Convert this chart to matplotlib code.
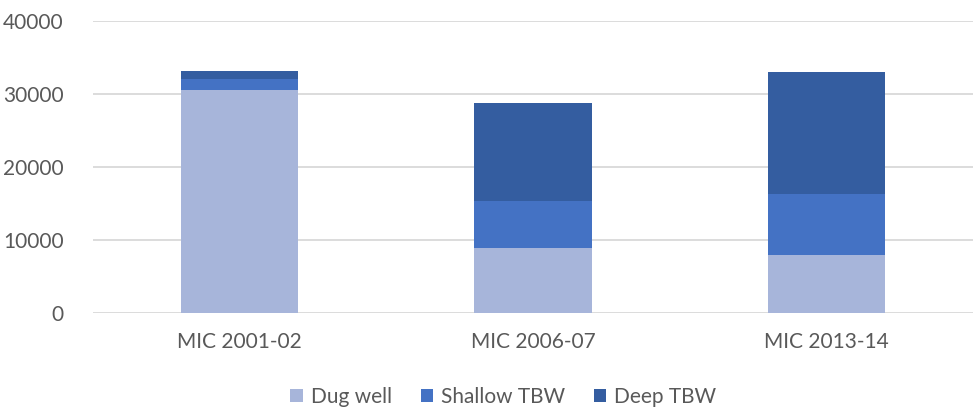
import matplotlib.pyplot as plt
import numpy as np

categories = ['MIC 2001-02', 'MIC 2006-07', 'MIC 2013-14']
dug_well = [30500, 8900, 7900]
shallow_tbw = [1500, 6400, 8350]
deep_tbw = [1200, 13400, 16700]

colors = ['#A7B5DA', '#4472C4', '#345DA0']
text_color = '#595959'

plt.rcParams['font.family'] = ['Lato', 'DejaVu Sans']

fig = plt.figure(figsize=(9.73, 4.11), dpi=100)
ax = fig.add_axes([0.0956, 0.2384, 0.9044, 0.7105])

x = np.arange(len(categories))
w = 0.4
b1 = np.array(dug_well)
b2 = b1 + np.array(shallow_tbw)
ax.bar(x, dug_well, w, color=colors[0], label='Dug well', zorder=3)
ax.bar(x, shallow_tbw, w, bottom=b1, color=colors[1], label='Shallow TBW', zorder=3)
ax.bar(x, deep_tbw, w, bottom=b2, color=colors[2], label='Deep TBW', zorder=3)

ax.set_xlim(-0.5, 2.5)
ax.set_ylim(0, 40000)
ax.set_yticks([0, 10000, 20000, 30000, 40000])
ax.set_xticks(x)
ax.set_xticklabels(categories)
ax.grid(axis='y', color='#D9D9D9', linewidth=1.3, zorder=0)
for s in ax.spines.values():
    s.set_visible(False)
ax.tick_params(axis='both', length=0, labelsize=15, colors=text_color)
ax.tick_params(axis='y', pad=21)
ax.tick_params(axis='x', pad=14)

fig.legend(loc='center', bbox_to_anchor=(503.5 / 973, 0.034), ncol=3, frameon=False,
           fontsize=15, handlelength=0.6, handleheight=0.6, handletextpad=0.4,
           columnspacing=1.35, labelcolor=text_color)

plt.savefig('out.png', dpi=100)
plt.close()
